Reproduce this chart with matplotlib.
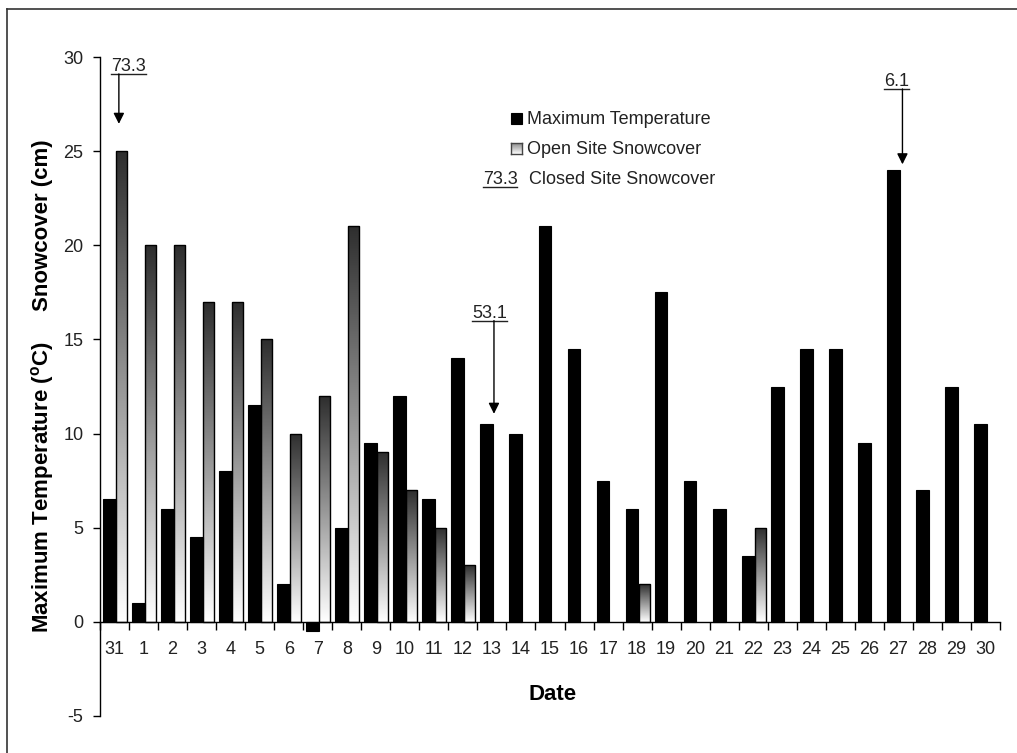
import numpy as np
import matplotlib
matplotlib.use("Agg")
import matplotlib.pyplot as plt
from matplotlib.colors import LinearSegmentedColormap
from matplotlib.lines import Line2D
from matplotlib.patches import Rectangle

# ---------------- data ----------------
dates = ["31", "1", "2", "3", "4", "5", "6", "7", "8", "9", "10", "11", "12", "13",
         "14", "15", "16", "17", "18", "19", "20", "21", "22", "23", "24", "25",
         "26", "27", "28", "29", "30"]
max_temp = [6.5, 1, 6, 4.5, 8, 11.5, 2, -0.5, 5, 9.5, 12, 6.5, 14, 10.5, 10, 21,
            14.5, 7.5, 6, 17.5, 7.5, 6, 3.5, 12.5, 14.5, 14.5, 9.5, 24, 7, 12.5, 10.5]
open_snow = [25, 20, 20, 17, 17, 15, 10, 12, 21, 9, 7, 5, 3, 0, 0, 0, 0, 0, 2, 0,
             0, 0, 5, 0, 0, 0, 0, 0, 0, 0, 0]
closed_dates = ["31", "13", "27"]
closed_labels = ["73.3", "53.1", "6.1"]
yticks = [-5, 0, 5, 10, 15, 20, 25, 30]

# ---------------- style ----------------
plt.rcParams["font.family"] = ["Liberation Sans", "DejaVu Sans"]
plt.rcParams["mathtext.fontset"] = "custom"
plt.rcParams["mathtext.rm"] = "Liberation Sans:bold"
plt.rcParams["mathtext.bf"] = "Liberation Sans:bold"

W, H = 1017, 753
fig = plt.figure(figsize=(W / 100, H / 100), dpi=100)
fig.patch.set_facecolor("white")


def fx(p):
    return p / W


def fy(p):
    return 1 - p / H


ax = fig.add_axes([fx(100), fy(716), fx(1000) - fx(100), fy(57) - fy(716)])
ax.set_facecolor("white")

x = np.arange(len(dates))
grad_cmap = LinearSegmentedColormap.from_list("g", ["#ffffff", "#2e2e2e"])
grad = np.linspace(0, 1, 256).reshape(-1, 1)

ax.bar(x - 0.175, max_temp, width=0.44, color="black", edgecolor="black",
       linewidth=0.8, zorder=3)
snow_bars = ax.bar(x + 0.24, open_snow, width=0.38, facecolor="none",
                   edgecolor="black", linewidth=1.0, zorder=4)
for rect, v in zip(snow_bars, open_snow):
    if v <= 0:
        rect.set_visible(False)
        continue
    x0 = rect.get_x()
    w = rect.get_width()
    im = ax.imshow(grad, cmap=grad_cmap, origin="lower", aspect="auto",
                   extent=[x0, x0 + w, 0, v], interpolation="bilinear", zorder=2)
    im.set_clip_path(rect)

ax.set_xlim(-0.5, len(dates) - 0.5)
ax.set_ylim(-5, 30)

for s in ["top", "right"]:
    ax.spines[s].set_visible(False)
ax.spines["bottom"].set_position(("data", 0))
ax.spines["left"].set_linewidth(1.0)
ax.spines["bottom"].set_linewidth(1.0)

ax.set_yticks(yticks)
ax.set_yticklabels([str(t) for t in yticks])
ax.tick_params(axis="y", direction="out", length=5, width=1, pad=7,
               labelsize=13, labelcolor="#222222")
ax.set_xticks(x)
ax.set_xticklabels(dates)
ax.set_xticks(np.arange(len(dates) + 1) - 0.5, minor=True)
ax.tick_params(axis="x", which="major", length=0, pad=14, labelsize=13,
               labelcolor="#222222")
ax.tick_params(axis="x", which="minor", direction="out", length=6, width=1)

# closed-site snowcover annotations
ann_pos = {"31": (0.47, 29.5, 0.15, 26.45),
           "13": (12.93, 16.4, 13.07, 11.05),
           "27": (26.95, 28.7, 27.14, 24.3)}
texts = []
for d, lab in zip(closed_dates, closed_labels):
    tx, ty, axx, tip = ann_pos[d]
    t = ax.text(tx, ty, lab, ha="center", va="center", fontsize=13,
                color="#222222", zorder=6, clip_on=False)
    texts.append((t, axx, tip))

# legend
fig.add_artist(Rectangle((fx(511), fy(124)), fx(11), 11 / H, transform=fig.transFigure,
                         facecolor="black", edgecolor="black", lw=0.8))
fig.text(fx(527), fy(119), "Maximum Temperature", fontsize=13, va="center",
         ha="left", color="#222222")
sw = fig.add_axes([fx(511), fy(154), fx(11), 11 / H])
sw.imshow(grad, cmap=LinearSegmentedColormap.from_list("s", ["#ffffff", "#8a8a8a"]),
          origin="lower", aspect="auto")
sw.set_xticks([])
sw.set_yticks([])
for s in sw.spines.values():
    s.set_color("#444444")
    s.set_linewidth(1)
fig.text(fx(527), fy(149), "Open Site Snowcover", fontsize=13, va="center",
         ha="left", color="#222222")
leg_num = fig.text(fx(500), fy(179), closed_labels[0], fontsize=13, va="center",
                   ha="center", color="#222222")
fig.text(fx(529), fy(179), "Closed Site Snowcover", fontsize=13, va="center",
         ha="left", color="#222222")

# axis labels
fig.text(fx(43), fy(487), r"Maximum Temperature ($\mathregular{^o}$C)", rotation=90,
         fontsize=16, fontweight="bold", ha="center", va="center")
fig.text(fx(43), fy(225), "Snowcover (cm)", rotation=90, fontsize=16,
         fontweight="bold", ha="center", va="center")
fig.text(fx(553), fy(695), "Date", fontsize=16, fontweight="bold",
         ha="center", va="center")

# frame lines
fig.add_artist(Line2D([fx(7), fx(7)], [fy(9), 0], transform=fig.transFigure,
                      color="#333333", lw=1.2))
fig.add_artist(Line2D([fx(7), 1], [fy(9), fy(9)], transform=fig.transFigure,
                      color="#333333", lw=1.2))

# underlines + arrows
fig.canvas.draw()
r = fig.canvas.get_renderer()
inv = ax.transData.inverted()
for t, axx, tip in texts:
    bb = t.get_window_extent(r)
    yu = bb.y0 + 1
    (x0d, yud) = inv.transform((bb.x0, yu))
    (x1d, _) = inv.transform((bb.x1, yu))
    ax.add_line(Line2D([x0d, x1d], [yud, yud], color="#222222", lw=1, clip_on=False,
                       zorder=6))
    ax.annotate("", xy=(axx, tip), xytext=(axx, yud),
                arrowprops=dict(arrowstyle="-|>", color="black", lw=1,
                                mutation_scale=16, shrinkA=0, shrinkB=0),
                annotation_clip=False, zorder=6)
bb = leg_num.get_window_extent(r)
finv = fig.transFigure.inverted()
(a0, b0) = finv.transform((bb.x0, bb.y0 + 1))
(a1, _) = finv.transform((bb.x1, bb.y0 + 1))
fig.add_artist(Line2D([a0, a1], [b0, b0], transform=fig.transFigure,
                      color="#222222", lw=1))

fig.savefig("out.png", dpi=100, facecolor="white")
